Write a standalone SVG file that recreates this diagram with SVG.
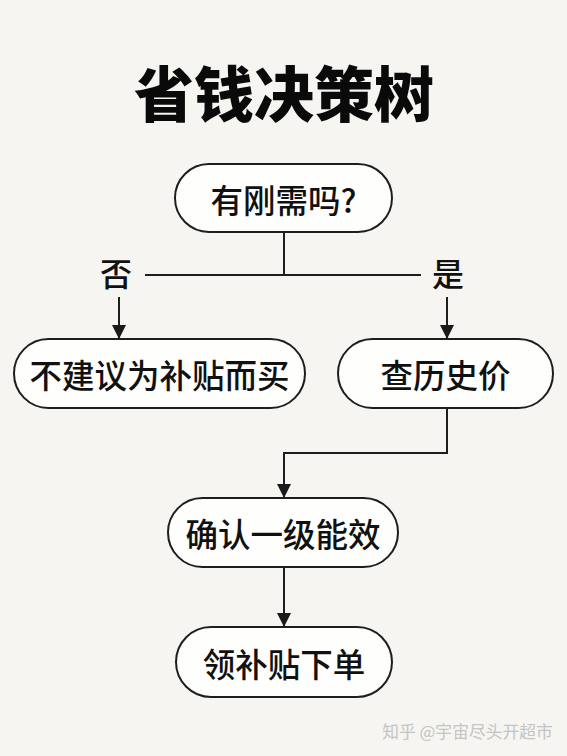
<svg xmlns="http://www.w3.org/2000/svg" width="567" height="756" viewBox="0 0 567 756">
<defs>
<marker id="ah" markerWidth="14" markerHeight="14" viewBox="0 0 14 14" refX="13" refY="7" orient="auto" markerUnits="userSpaceOnUse">
<path d="M0,0 L14,7 L0,14 Z" fill="#1a1a1a"/>
</marker>
<style>
.pill{fill:#fefefd;stroke:#1e1e1e;stroke-width:2}
.t{font-family:"Noto Sans CJK SC","Noto Sans",sans-serif;font-size:32.5px;font-weight:500;fill:#111;text-anchor:middle;dominant-baseline:central}
.lbl{font-family:"Noto Sans CJK SC","Noto Sans",sans-serif;font-size:32px;font-weight:500;fill:#111;text-anchor:middle;dominant-baseline:central}
.ln{fill:none;stroke:#1e1e1e;stroke-width:2}
</style>
</defs>
<rect x="0" y="0" width="567" height="756" fill="#f6f5f1"/>
<text x="284" y="90" font-family="'Noto Sans CJK SC',sans-serif" font-size="60" font-weight="900" fill="#0a0a0a" text-anchor="middle" dominant-baseline="central">省钱决策树</text>

<g id="connectors">
<path class="ln" d="M284,232 V275"/>
<path class="ln" d="M145,275 H421"/>
<path class="ln" d="M119,297 V338" marker-end="url(#ah)"/>
<path class="ln" d="M447,297 V338" marker-end="url(#ah)"/>
<path class="ln" d="M447,408 V453 H284 V497" marker-end="url(#ah)"/>
<path class="ln" d="M284,567 V626" marker-end="url(#ah)"/>
</g>

<g id="label-no"><text class="lbl" x="116" y="272">否</text></g>
<g id="label-yes"><text class="lbl" x="448" y="272">是</text></g>

<g id="n1"><rect class="pill" x="175" y="164" width="217" height="68" rx="34"/><text class="t" x="283.5" y="198">有刚需吗?</text></g>
<g id="n2"><rect class="pill" x="14" y="339" width="291" height="69" rx="34.5"/><text class="t" x="159.5" y="373.5">不建议为补贴而买</text></g>
<g id="n3"><rect class="pill" x="338" y="339" width="215" height="69" rx="34.5"/><text class="t" x="445.5" y="373.5">查历史价</text></g>
<g id="n4"><rect class="pill" x="168" y="498" width="230" height="69" rx="34.5"/><text class="t" x="283" y="532.5">确认一级能效</text></g>
<g id="n5"><rect class="pill" x="176" y="627" width="216" height="70" rx="35"/><text class="t" x="284" y="662">领补贴下单</text></g>

<text x="467.5" y="731" font-family="'Noto Sans CJK SC',sans-serif" font-size="16.8" fill="#c4c4c2" text-anchor="middle" dominant-baseline="central">知乎 @宇宙尽头开超市</text>
</svg>
